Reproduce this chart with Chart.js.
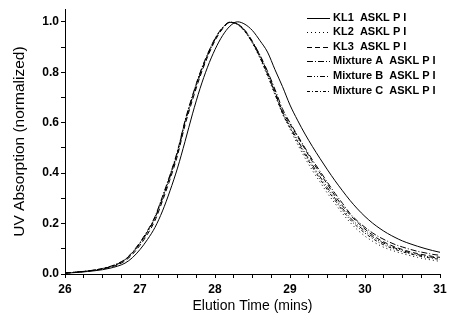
<!DOCTYPE html>
<html>
<head>
<meta charset="utf-8">
<script src="https://cdn.jsdelivr.net/npm/chart.js@4.4.1/dist/chart.umd.min.js"></script>
<style>
  body { margin: 0; background: #fff; }
  canvas { display: block; }
</style>
</head>
<body>
<canvas id="c" width="457" height="324"></canvas>
<script>
// elution time (mins)
const times = [26.0, 26.1, 26.2, 26.3, 26.4, 26.5, 26.6, 26.7, 26.8, 26.9,
  27.0, 27.1, 27.2, 27.3, 27.4, 27.5, 27.6, 27.7, 27.8, 27.9,
  28.0, 28.1, 28.2, 28.3, 28.4, 28.5, 28.6, 28.7, 28.8, 28.9,
  29.0, 29.1, 29.2, 29.3, 29.4, 29.5, 29.6, 29.7, 29.8, 29.9,
  30.0, 30.1, 30.2, 30.3, 30.4, 30.5, 30.6, 30.7, 30.8, 30.9, 31.0];

const kl1 = [0.003, 0.005, 0.007, 0.010, 0.013, 0.017, 0.023, 0.031, 0.043, 0.065,
  0.097, 0.137, 0.185, 0.250, 0.330, 0.420, 0.525, 0.635, 0.735, 0.820,
  0.890, 0.945, 0.983, 1.000, 0.990, 0.965, 0.925, 0.880, 0.810, 0.743,
  0.670, 0.610, 0.555, 0.505, 0.458, 0.413, 0.370, 0.330, 0.292, 0.258,
  0.228, 0.202, 0.180, 0.161, 0.145, 0.131, 0.120, 0.110, 0.101, 0.093, 0.086];

const kl2 = [0.004, 0.006, 0.009, 0.012, 0.016, 0.021, 0.029, 0.040, 0.057, 0.085,
  0.123, 0.170, 0.225, 0.305, 0.390, 0.485, 0.605, 0.705, 0.795, 0.870,
  0.932, 0.976, 0.998, 0.990, 0.960, 0.915, 0.855, 0.785, 0.710, 0.635,
  0.575, 0.515, 0.460, 0.410, 0.365, 0.320, 0.280, 0.240, 0.205, 0.175,
  0.150, 0.130, 0.113, 0.100, 0.090, 0.081, 0.073, 0.066, 0.060, 0.055, 0.050];

const kl3 = [0.004, 0.006, 0.008, 0.011, 0.015, 0.020, 0.027, 0.036, 0.052, 0.078,
  0.114, 0.158, 0.212, 0.290, 0.375, 0.470, 0.590, 0.690, 0.782, 0.860,
  0.925, 0.972, 0.997, 0.992, 0.965, 0.920, 0.865, 0.800, 0.725, 0.645,
  0.595, 0.545, 0.495, 0.445, 0.400, 0.355, 0.310, 0.270, 0.235, 0.205,
  0.178, 0.155, 0.135, 0.120, 0.107, 0.097, 0.088, 0.081, 0.075, 0.070, 0.066];

const mixA = [0.004, 0.006, 0.009, 0.012, 0.016, 0.022, 0.030, 0.041, 0.058, 0.087,
  0.126, 0.172, 0.228, 0.308, 0.393, 0.488, 0.608, 0.708, 0.798, 0.872,
  0.934, 0.977, 0.999, 0.991, 0.966, 0.922, 0.868, 0.804, 0.732, 0.655,
  0.600, 0.550, 0.500, 0.452, 0.408, 0.363, 0.320, 0.280, 0.240, 0.210,
  0.185, 0.163, 0.145, 0.130, 0.117, 0.107, 0.098, 0.090, 0.084, 0.078, 0.074];

const mixB = [0.004, 0.006, 0.009, 0.012, 0.016, 0.021, 0.028, 0.039, 0.056, 0.083,
  0.121, 0.166, 0.221, 0.300, 0.385, 0.480, 0.600, 0.700, 0.790, 0.865,
  0.930, 0.975, 0.998, 0.990, 0.962, 0.917, 0.860, 0.793, 0.718, 0.640,
  0.585, 0.532, 0.480, 0.432, 0.386, 0.342, 0.300, 0.260, 0.224, 0.195,
  0.170, 0.148, 0.130, 0.115, 0.103, 0.093, 0.084, 0.077, 0.071, 0.066, 0.062];

const mixC = [0.004, 0.006, 0.009, 0.012, 0.016, 0.021, 0.029, 0.040, 0.057, 0.084,
  0.122, 0.168, 0.224, 0.303, 0.388, 0.483, 0.603, 0.703, 0.793, 0.868,
  0.931, 0.976, 0.998, 0.990, 0.961, 0.916, 0.858, 0.790, 0.714, 0.637,
  0.580, 0.525, 0.472, 0.423, 0.377, 0.333, 0.292, 0.252, 0.216, 0.187,
  0.162, 0.141, 0.123, 0.109, 0.098, 0.088, 0.080, 0.073, 0.067, 0.062, 0.058];

const seriesNames = ['KL1  ASKL P I', 'KL2  ASKL P I', 'KL3  ASKL P I',
  'Mixture A  ASKL P I', 'Mixture B  ASKL P I', 'Mixture C  ASKL P I'];
const seriesValues = [kl1, kl2, kl3, mixA, mixB, mixC];
const dashes = [[], [1, 3], [5, 3], [6, 2, 1, 2], [5, 2, 1, 2, 1, 2], [3, 2, 1, 2]];

Chart.defaults.font.family = '"Liberation Sans", Arial, sans-serif';
Chart.defaults.color = '#000';

const datasets = seriesValues.map((vals, i) => ({
  label: seriesNames[i],
  data: times.map((t, j) => ({ x: t, y: vals[j] })),
  borderColor: '#000',
  borderWidth: 1,
  borderDash: dashes[i],
  pointRadius: 0,
  fill: false,
  cubicInterpolationMode: 'monotone'
}));

// legend drawn in the top right corner of the plot
const legendPlugin = {
  id: 'cornerLegend',
  afterDraw(chart) {
    const ctx = chart.ctx;
    ctx.save();
    ctx.font = 'bold 11px "Liberation Sans", Arial, sans-serif';
    ctx.fillStyle = '#000';
    ctx.strokeStyle = '#000';
    ctx.lineWidth = 1;
    ctx.textBaseline = 'middle';
    chart.data.datasets.forEach((ds, i) => {
      const y = 17.5 + i * 14.6;
      ctx.setLineDash(ds.borderDash);
      ctx.beginPath();
      ctx.moveTo(307, Math.round(y) + 0.5);
      ctx.lineTo(330, Math.round(y) + 0.5);
      ctx.stroke();
      ctx.setLineDash([]);
      ctx.fillText(ds.label, 333, y);
    });
    ctx.restore();
  }
};

new Chart(document.getElementById('c'), {
  type: 'line',
  data: { datasets: datasets },
  options: {
    responsive: false,
    animation: false,
    layout: { padding: { top: 0, right: 17, left: 0, bottom: 0 } },
    plugins: { legend: { display: false }, tooltip: { enabled: false } },
    scales: {
      x: {
        type: 'linear',
        min: 26,
        max: 31,
        afterFit: (s) => { s.height = 50; },
        grid: { drawOnChartArea: false, tickLength: 4, color: '#000' },
        border: { color: '#000', width: 1 },
        ticks: {
          stepSize: 0.25,
          autoSkip: false,
          maxRotation: 0,
          padding: 4,
          font: { size: 12, weight: 'bold' },
          callback: (v) => Number.isInteger(v) ? String(v) : ''
        },
        title: {
          display: true,
          text: 'Elution Time (mins)',
          font: { size: 14 },
          padding: { top: 4, bottom: 9 }
        }
      },
      y: {
        min: 0,
        max: 1.05,
        afterFit: (s) => { s.width = 65; },
        grid: { drawOnChartArea: false, tickLength: 4, color: '#000' },
        border: { color: '#000', width: 1 },
        ticks: {
          stepSize: 0.1,
          includeBounds: false,
          padding: 2,
          font: { size: 12, weight: 'bold' },
          callback: (v) => Math.round(v * 10) % 2 === 0 ? v.toFixed(1) : ''
        },
        title: {
          display: true,
          text: 'UV Absorption (normalized)',
          font: { size: 15.5 },
          padding: { top: 10 }
        }
      }
    }
  },
  plugins: [legendPlugin]
});
</script>
</body>
</html>
